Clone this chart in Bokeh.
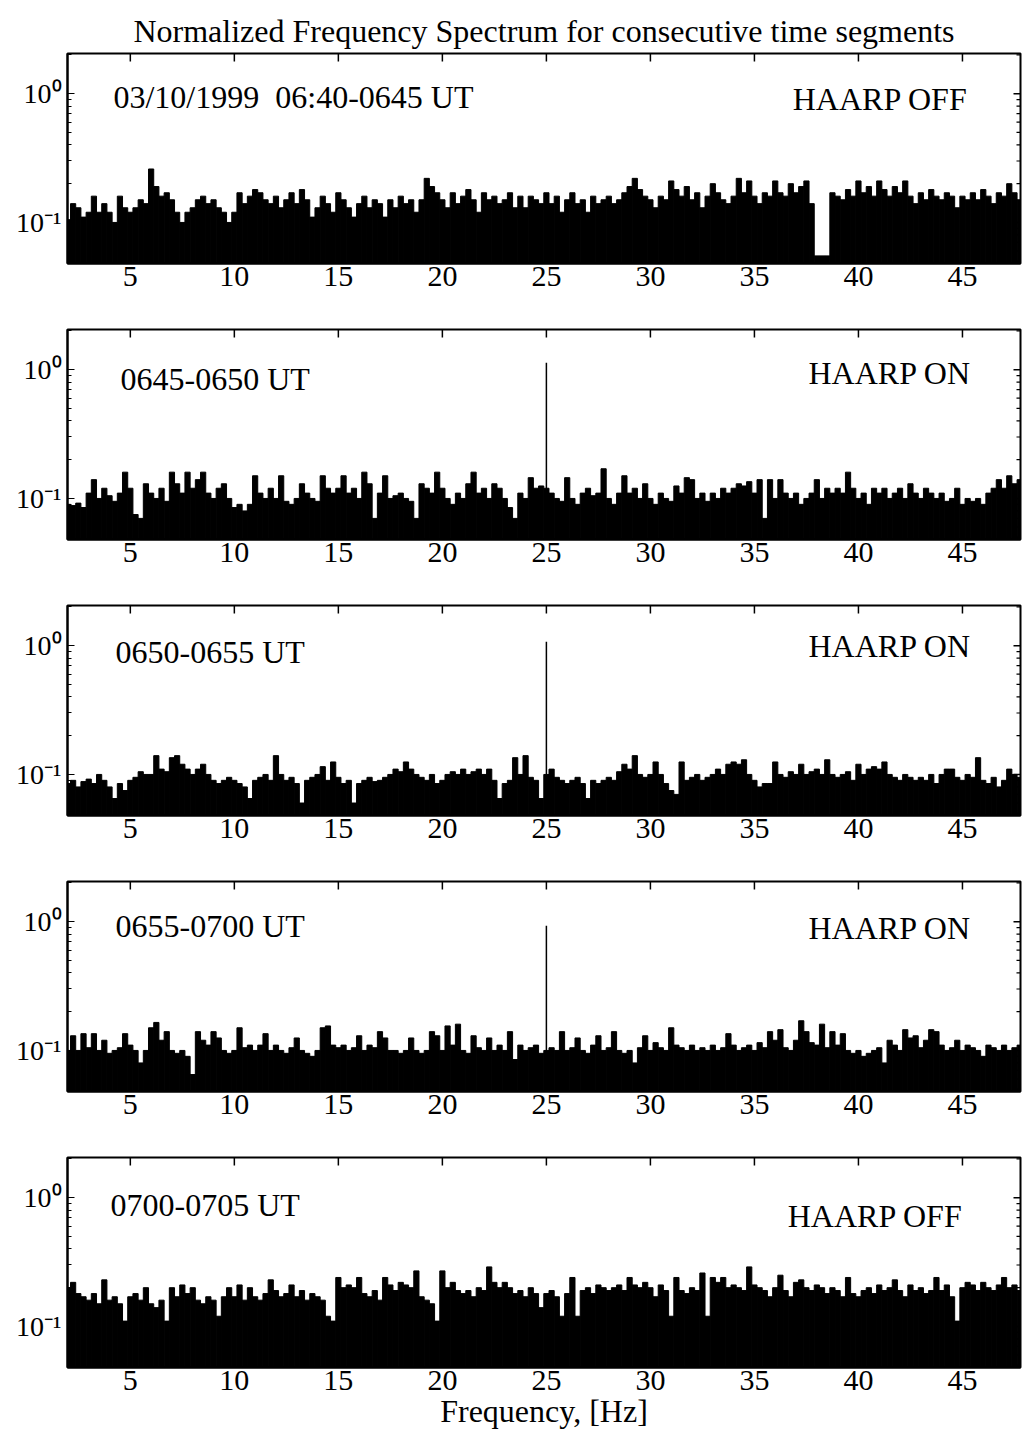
import numpy as np
from bokeh.plotting import figure
from bokeh.layouts import column
from bokeh.models import (Range1d, FixedTicker, Label,
                          CustomJSTickFormatter, ColumnDataSource)
from bokeh.embed import file_html
from bokeh.resources import INLINE

# ---------------- data ----------------
freq_start = 2.0      # Hz, first bin
freq_step = 0.25      # Hz, bin width

spec_0640_0645 = [
    0.105, 0.14, 0.13, 0.11, 0.12, 0.16, 0.12, 0.14,
    0.12, 0.10, 0.16, 0.13, 0.12, 0.13, 0.15, 0.14,
    0.26, 0.19, 0.16, 0.17, 0.15, 0.12, 0.10, 0.12,
    0.13, 0.15, 0.16, 0.14, 0.15, 0.13, 0.12, 0.10,
    0.12, 0.17, 0.14, 0.16, 0.18, 0.17, 0.15, 0.14,
    0.16, 0.13, 0.15, 0.17, 0.14, 0.18, 0.15, 0.11,
    0.13, 0.16, 0.14, 0.12, 0.17, 0.15, 0.13, 0.11,
    0.14, 0.16, 0.13, 0.15, 0.14, 0.11, 0.15, 0.13,
    0.16, 0.14, 0.15, 0.12, 0.15, 0.22, 0.19, 0.17,
    0.15, 0.13, 0.17, 0.14, 0.16, 0.18, 0.15, 0.12,
    0.17, 0.15, 0.16, 0.14, 0.15, 0.17, 0.13, 0.16,
    0.13, 0.16, 0.15, 0.14, 0.17, 0.14, 0.16, 0.12,
    0.15, 0.17, 0.14, 0.15, 0.12, 0.16, 0.14, 0.15,
    0.16, 0.14, 0.15, 0.17, 0.19, 0.22, 0.18, 0.16,
    0.15, 0.13, 0.16, 0.15, 0.21, 0.18, 0.16, 0.19,
    0.15, 0.17, 0.13, 0.16, 0.20, 0.17, 0.15, 0.14,
    0.16, 0.22, 0.17, 0.21, 0.16, 0.14, 0.17, 0.16,
    0.21, 0.17, 0.16, 0.20, 0.17, 0.19, 0.21, 0.14,
    0.055, 0.055, 0.055, 0.17, 0.16, 0.15, 0.18, 0.16,
    0.21, 0.17, 0.19, 0.16, 0.21, 0.18, 0.16, 0.19,
    0.17, 0.21, 0.16, 0.14, 0.17, 0.15, 0.18, 0.16,
    0.15, 0.17, 0.16, 0.13, 0.16, 0.15, 0.17, 0.15,
    0.18, 0.16, 0.14, 0.17, 0.16, 0.20, 0.17, 0.15,
]

spec_0645_0650 = [
    0.09, 0.088, 0.092, 0.085, 0.11, 0.14, 0.10, 0.12,
    0.105, 0.095, 0.11, 0.16, 0.12, 0.075, 0.07, 0.13,
    0.11, 0.10, 0.12, 0.095, 0.16, 0.13, 0.11, 0.16,
    0.12, 0.14, 0.16, 0.11, 0.10, 0.12, 0.13, 0.10,
    0.085, 0.09, 0.08, 0.09, 0.15, 0.11, 0.10, 0.12,
    0.10, 0.15, 0.095, 0.09, 0.10, 0.13, 0.11, 0.10,
    0.095, 0.15, 0.12, 0.11, 0.12, 0.15, 0.11, 0.12,
    0.10, 0.16, 0.13, 0.07, 0.11, 0.15, 0.10, 0.105,
    0.11, 0.10, 0.095, 0.07, 0.13, 0.12, 0.11, 0.16,
    0.12, 0.10, 0.09, 0.11, 0.10, 0.13, 0.16, 0.11,
    0.12, 0.10, 0.13, 0.12, 0.10, 0.085, 0.07, 0.11,
    0.10, 0.145, 0.12, 0.125, 0.12, 0.11, 0.10, 0.095,
    0.145, 0.10, 0.09, 0.11, 0.12, 0.105, 0.11, 0.17,
    0.10, 0.09, 0.11, 0.15, 0.11, 0.12, 0.10, 0.13,
    0.10, 0.09, 0.11, 0.10, 0.095, 0.125, 0.11, 0.145,
    0.14, 0.10, 0.11, 0.095, 0.11, 0.10, 0.12, 0.11,
    0.12, 0.13, 0.125, 0.135, 0.11, 0.14, 0.07, 0.14,
    0.10, 0.14, 0.11, 0.10, 0.11, 0.09, 0.10, 0.11,
    0.14, 0.10, 0.12, 0.11, 0.12, 0.11, 0.16, 0.12,
    0.10, 0.11, 0.09, 0.12, 0.11, 0.12, 0.10, 0.11,
    0.12, 0.10, 0.13, 0.11, 0.10, 0.12, 0.11, 0.10,
    0.11, 0.095, 0.10, 0.12, 0.09, 0.10, 0.095, 0.10,
    0.09, 0.11, 0.12, 0.14, 0.12, 0.15, 0.13, 0.14,
]

spec_0650_0655 = [
    0.085, 0.09, 0.08, 0.088, 0.092, 0.085, 0.10, 0.09,
    0.08, 0.065, 0.085, 0.075, 0.09, 0.095, 0.105, 0.10,
    0.10, 0.14, 0.11, 0.105, 0.135, 0.14, 0.12, 0.11,
    0.10, 0.11, 0.12, 0.10, 0.09, 0.085, 0.09, 0.095,
    0.09, 0.085, 0.08, 0.065, 0.09, 0.095, 0.10, 0.09,
    0.14, 0.10, 0.09, 0.095, 0.085, 0.06, 0.09, 0.095,
    0.10, 0.115, 0.09, 0.125, 0.095, 0.085, 0.09, 0.06,
    0.085, 0.09, 0.095, 0.088, 0.09, 0.095, 0.10, 0.11,
    0.105, 0.125, 0.11, 0.10, 0.095, 0.09, 0.10, 0.085,
    0.09, 0.10, 0.105, 0.10, 0.11, 0.10, 0.105, 0.11,
    0.10, 0.11, 0.09, 0.065, 0.085, 0.09, 0.135, 0.10,
    0.14, 0.095, 0.09, 0.065, 0.10, 0.11, 0.095, 0.09,
    0.085, 0.09, 0.095, 0.085, 0.065, 0.09, 0.085, 0.09,
    0.095, 0.09, 0.105, 0.12, 0.11, 0.14, 0.10, 0.095,
    0.10, 0.125, 0.10, 0.085, 0.075, 0.07, 0.125, 0.09,
    0.095, 0.10, 0.09, 0.095, 0.10, 0.11, 0.10, 0.12,
    0.125, 0.12, 0.13, 0.10, 0.09, 0.08, 0.085, 0.085,
    0.125, 0.10, 0.095, 0.105, 0.10, 0.12, 0.10, 0.105,
    0.11, 0.10, 0.13, 0.10, 0.095, 0.10, 0.105, 0.09,
    0.12, 0.10, 0.11, 0.115, 0.11, 0.125, 0.10, 0.095,
    0.09, 0.10, 0.095, 0.09, 0.095, 0.09, 0.10, 0.085,
    0.10, 0.11, 0.11, 0.095, 0.09, 0.10, 0.095, 0.135,
    0.09, 0.085, 0.095, 0.08, 0.09, 0.11, 0.10, 0.095,
]

spec_0655_0700 = [
    0.10, 0.13, 0.10, 0.135, 0.105, 0.135, 0.10, 0.12,
    0.095, 0.10, 0.105, 0.135, 0.11, 0.10, 0.08, 0.10,
    0.15, 0.165, 0.12, 0.14, 0.10, 0.095, 0.10, 0.09,
    0.065, 0.14, 0.12, 0.11, 0.14, 0.125, 0.10, 0.095,
    0.10, 0.15, 0.105, 0.11, 0.10, 0.11, 0.135, 0.10,
    0.11, 0.10, 0.095, 0.105, 0.125, 0.10, 0.095, 0.09,
    0.10, 0.15, 0.155, 0.11, 0.105, 0.11, 0.10, 0.105,
    0.13, 0.10, 0.11, 0.105, 0.14, 0.125, 0.10, 0.10,
    0.095, 0.10, 0.125, 0.10, 0.095, 0.10, 0.14, 0.13,
    0.10, 0.155, 0.11, 0.16, 0.10, 0.095, 0.13, 0.105,
    0.10, 0.125, 0.10, 0.11, 0.10, 0.14, 0.085, 0.11,
    0.10, 0.105, 0.11, 0.095, 0.10, 0.105, 0.10, 0.14,
    0.10, 0.105, 0.125, 0.10, 0.095, 0.11, 0.13, 0.10,
    0.105, 0.14, 0.10, 0.095, 0.10, 0.08, 0.105, 0.13,
    0.10, 0.115, 0.105, 0.10, 0.15, 0.11, 0.105, 0.10,
    0.11, 0.10, 0.105, 0.10, 0.11, 0.10, 0.105, 0.135,
    0.11, 0.10, 0.105, 0.11, 0.10, 0.115, 0.105, 0.14,
    0.12, 0.145, 0.105, 0.10, 0.12, 0.17, 0.14, 0.115,
    0.11, 0.16, 0.105, 0.14, 0.11, 0.135, 0.10, 0.095,
    0.10, 0.09, 0.095, 0.10, 0.105, 0.08, 0.12, 0.11,
    0.10, 0.145, 0.125, 0.13, 0.105, 0.12, 0.145, 0.14,
    0.11, 0.10, 0.105, 0.12, 0.10, 0.11, 0.105, 0.10,
    0.09, 0.11, 0.105, 0.10, 0.11, 0.10, 0.105, 0.11,
]

spec_0700_0705 = [
    0.20, 0.22, 0.18, 0.17, 0.16, 0.18, 0.15, 0.23,
    0.16, 0.17, 0.15, 0.11, 0.17, 0.18, 0.16, 0.20,
    0.15, 0.14, 0.16, 0.11, 0.20, 0.17, 0.21, 0.18,
    0.20, 0.16, 0.15, 0.17, 0.16, 0.12, 0.17, 0.20,
    0.17, 0.21, 0.16, 0.20, 0.17, 0.16, 0.18, 0.23,
    0.19, 0.17, 0.18, 0.21, 0.17, 0.19, 0.16, 0.18,
    0.17, 0.16, 0.12, 0.11, 0.24, 0.20, 0.21, 0.20,
    0.24, 0.18, 0.17, 0.19, 0.16, 0.24, 0.21, 0.19,
    0.22, 0.21, 0.20, 0.27, 0.17, 0.16, 0.15, 0.11,
    0.27, 0.20, 0.22, 0.19, 0.18, 0.19, 0.17, 0.20,
    0.19, 0.29, 0.22, 0.20, 0.22, 0.20, 0.18, 0.19,
    0.17, 0.20, 0.18, 0.14, 0.18, 0.19, 0.17, 0.12,
    0.18, 0.24, 0.12, 0.19, 0.20, 0.18, 0.21, 0.20,
    0.19, 0.20, 0.21, 0.19, 0.24, 0.21, 0.20, 0.22,
    0.20, 0.17, 0.21, 0.19, 0.12, 0.24, 0.19, 0.18,
    0.20, 0.19, 0.26, 0.12, 0.24, 0.22, 0.24, 0.20,
    0.21, 0.20, 0.19, 0.29, 0.21, 0.20, 0.19, 0.17,
    0.20, 0.25, 0.19, 0.17, 0.22, 0.23, 0.20, 0.19,
    0.21, 0.20, 0.18, 0.20, 0.19, 0.17, 0.24, 0.18,
    0.17, 0.19, 0.20, 0.18, 0.21, 0.19, 0.20, 0.23,
    0.19, 0.17, 0.21, 0.19, 0.20, 0.18, 0.19, 0.24,
    0.19, 0.21, 0.17, 0.11, 0.20, 0.22, 0.21, 0.19,
    0.22, 0.20, 0.19, 0.21, 0.24, 0.20, 0.21, 0.19,
]

spectra = [spec_0640_0645, spec_0645_0650, spec_0650_0655, spec_0655_0700, spec_0700_0705]
segment_labels = ["03/10/1999\u00a0\u00a006:40-0645 UT", "0645-0650 UT", "0650-0655 UT",
                  "0655-0700 UT", "0700-0705 UT"]
haarp_status = ["HAARP OFF", "HAARP ON", "HAARP ON", "HAARP ON", "HAARP OFF"]
line_freq = 25.0
line_peak = [None, 1.13, 1.07, 0.93, None]
x_ticks = [5, 10, 15, 20, 25, 30, 35, 40, 45]
y_major = [0.1, 1.0]
y_minor = [0.05, 0.06, 0.07, 0.08, 0.09, 0.2, 0.3, 0.4, 0.5, 0.6, 0.7, 0.8, 0.9, 2.0]
title_text = "Normalized Frequency Spectrum for consecutive time segments"
xlabel_text = "Frequency, [Hz]"

# ---------------- styling / layout (not data) ----------------
FONT = "Liberation Serif"
X0, X1 = 1.98, 47.79
Y0, Y1 = 0.048, 2.05
FW, FH = 953, 210
PX_PER_HZ = FW / (X1 - X0)
PX_PER_DEC = FH / np.log10(Y1 / Y0)
left_pos = [(4.19, 0.95), (4.53, 0.85), (4.29, 0.90), (4.29, 0.93), (4.05, 0.87)]
right_pos = [(36.84, 0.91), (37.6, 0.95), (37.6, 1.0), (37.6, 0.885), (36.6, 0.72)]

y_fmt = CustomJSTickFormatter(code="return tick < 0.5 ? '10\u207b\u00b9' : '10\u2070';")


def y_down(y, px):
    return y / 10 ** (px / PX_PER_DEC)


figs = []
n = len(spectra)
for k in range(n):
    first, last = (k == 0), (k == n - 1)
    p = figure(frame_width=FW, frame_height=FH,
               x_range=Range1d(X0, X1), y_range=Range1d(Y0, Y1),
               y_axis_type="log", output_backend="svg", toolbar_location=None,
               min_border_left=67, min_border_right=4,
               min_border_top=53 if first else 10,
               min_border_bottom=40 if last else 56,
               background_fill_color="white", border_fill_color="white",
               outline_line_color="black", outline_line_width=2)
    p.grid.visible = False

    if first:
        p.title.text = title_text
        p.title.align = "center"
        p.title.text_font = FONT
        p.title.text_font_size = "32px"
        p.title.text_font_style = "normal"
        p.title.text_color = "black"
        p.title.standoff = 9

    vals = spectra[k]
    freqs = freq_start + freq_step * np.arange(len(vals))
    src = ColumnDataSource(dict(x=freqs, top=vals, bottom=[0.01] * len(vals)))
    p.vbar(x="x", top="top", bottom="bottom", width=freq_step, source=src,
           fill_color="black", line_color="black", line_width=1)
    if line_peak[k] is not None:
        p.segment(x0=[line_freq], y0=[0.01], x1=[line_freq], y1=[line_peak[k]],
                  line_color="black", line_width=1.5)

    # top-edge ticks (inward) and right-edge ticks (inward)
    p.segment(x0=x_ticks, y0=[Y1] * len(x_ticks), x1=x_ticks,
              y1=[y_down(Y1, 8)] * len(x_ticks), line_color="black", line_width=1.5)
    xr_major = X1 - 7 / PX_PER_HZ
    xr_minor = X1 - 4 / PX_PER_HZ
    p.segment(x0=[X1] * len(y_major), y0=y_major, x1=[xr_major] * len(y_major),
              y1=y_major, line_color="black", line_width=1.5)
    p.segment(x0=[X1] * len(y_minor), y0=y_minor, x1=[xr_minor] * len(y_minor),
              y1=y_minor, line_color="black", line_width=1.2)

    # bottom x axis
    xa = p.xaxis[0]
    xa.ticker = FixedTicker(ticks=x_ticks)
    xa.major_tick_in = 8
    xa.major_tick_out = 0
    xa.minor_tick_line_color = None
    xa.axis_line_width = 2
    xa.axis_line_color = "black"
    xa.major_tick_line_color = "black"
    xa.major_label_text_color = "black"
    xa.major_label_text_font = FONT
    xa.major_label_text_font_size = "30px"
    xa.major_label_standoff = 3
    if last:
        xa.axis_label = xlabel_text
        xa.axis_label_text_font = FONT
        xa.axis_label_text_font_size = "32px"
        xa.axis_label_text_font_style = "normal"
        xa.axis_label_text_color = "black"
        xa.axis_label_standoff = 0

    # left log axis
    ya = p.yaxis[0]
    ya.ticker = FixedTicker(ticks=y_major, minor_ticks=y_minor)
    ya.formatter = y_fmt
    ya.major_tick_in = 7
    ya.major_tick_out = 0
    ya.minor_tick_in = 4
    ya.minor_tick_out = 0
    ya.axis_line_width = 2
    ya.axis_line_color = "black"
    ya.major_tick_line_color = "black"
    ya.minor_tick_line_color = "black"
    ya.major_label_text_color = "black"
    ya.major_label_text_font = FONT
    ya.major_label_text_font_size = "28px"
    ya.major_label_standoff = 6

    lx, ly = left_pos[k]
    p.add_layout(Label(x=lx, y=ly, text=segment_labels[k], text_font=FONT,
                       text_font_size="32px", text_baseline="alphabetic",
                       text_align="left", text_color="black"))
    rx, ry = right_pos[k]
    p.add_layout(Label(x=rx, y=ry, text=haarp_status[k], text_font=FONT,
                       text_font_size="32px", text_baseline="alphabetic",
                       text_align="left", text_color="black"))
    figs.append(p)

layout = column(*figs, spacing=0)
open("out.html", "w").write(file_html(layout, INLINE))
